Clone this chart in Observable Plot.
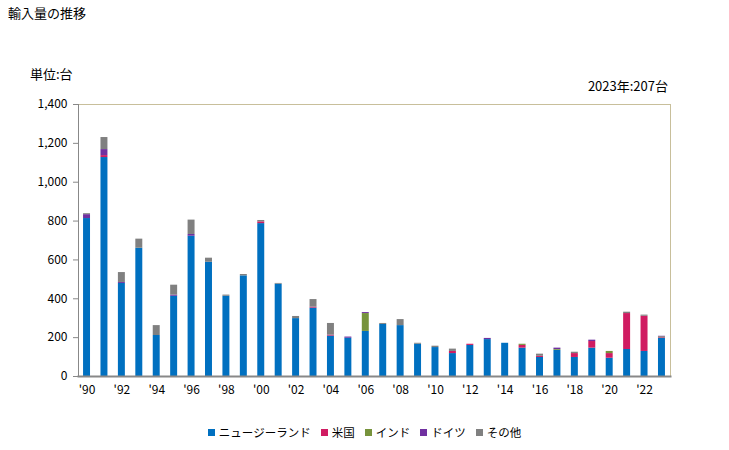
<!DOCTYPE html>
<html><head><meta charset="utf-8">
<script src="https://cdn.jsdelivr.net/npm/d3@7"></script>
<script src="https://cdn.jsdelivr.net/npm/@observablehq/plot@0.6"></script>
<style>
body{margin:0;background:#fff;font-family:"Noto Sans CJK JP","Noto Sans",sans-serif;}
#wrap{position:relative;width:729px;height:450px;overflow:hidden;}
#wrap svg{position:absolute;left:0;top:0;}
.t{position:absolute;font-size:13px;color:#000;white-space:nowrap;line-height:1;}
#legend{position:absolute;left:0;width:729px;top:425px;display:flex;justify-content:center;gap:10px;font-size:11.5px;line-height:14px;}
#legend div{white-space:nowrap;}
#legend span.sw{display:inline-block;width:7px;height:7px;margin-right:4px;vertical-align:middle;position:relative;top:-1px;}
</style></head>
<body>
<div id="wrap">
  <div class="t" style="left:8px;top:6px;">輸入量の推移</div>
  <div class="t" style="left:30px;top:67px;">単位:台</div>
  <div class="t" style="right:61px;top:79px;">2023年:207台</div>
  <div id="legend"></div>
</div>
<script>
const years = [1990,1991,1992,1993,1994,1995,1996,1997,1998,1999,2000,2001,2002,2003,2004,2005,2006,2007,2008,2009,2010,2011,2012,2013,2014,2015,2016,2017,2018,2019,2020,2021,2022,2023];
const seriesNames = ["ニュージーランド","米国","インド","ドイツ","その他"];
const seriesColors = ["#0070C0","#D01C62","#77933C","#7030A0","#808080"];
const nz      = [813,1127,479,660,211,413,722,588,413,518,787,475,298,352,208,197,232,268,262,166,149,118,160,190,171,146,98,135,98,146,94,139,129,197];
const us      = [0,10,0,0,0,0,0,0,0,0,9,0,0,5,5,0,0,0,0,0,0,11,6,0,0,14,6,0,20,34,24,185,181,3];
const india   = [0,0,0,0,0,0,0,0,0,0,0,0,0,0,0,0,92,0,0,0,0,0,0,0,0,6,0,4,0,0,11,0,0,4];
const germany = [20,31,5,0,0,6,9,0,0,0,0,0,0,0,0,6,5,0,0,0,0,0,0,6,0,0,0,7,0,7,0,0,0,3];
const other   = [5,62,51,47,51,51,74,21,6,7,7,4,11,39,60,0,0,5,31,5,7,12,0,0,0,0,11,0,7,0,0,7,6,0];
const yTicks = [0,200,400,600,800,1000,1200,1400];

const seriesValues = [nz, us, india, germany, other];
const data = [];
years.forEach((yr, i) => {
  seriesNames.forEach((s, j) => {
    data.push({year: yr, series: s, value: seriesValues[j][i]});
  });
});

const plot = Plot.plot({
  width: 729, height: 450,
  marginLeft: 78, marginRight: 59, marginTop: 104, marginBottom: 74,
  style: {fontFamily: '"Noto Sans CJK JP","Noto Sans",sans-serif', fontSize: "12px", color: "#000", background: "transparent"},
  x: {type: "band", domain: years, paddingInner: 0.6, paddingOuter: 0.29, round: false},
  y: {domain: [0, 1400]},
  color: {domain: seriesNames, range: seriesColors},
  marks: [
    Plot.frame({anchor: "top", stroke: "#C8BF9B"}),
    Plot.frame({anchor: "right", stroke: "#C8BF9B"}),
    Plot.barY(data, {x: "year", y: "value", fill: "series"}),
    Plot.frame({anchor: "left", stroke: "#888"}),
    Plot.frame({anchor: "bottom", stroke: "#888", strokeWidth: 2}),
    Plot.axisY({ticks: yTicks, tickSize: 5, tickPadding: 6, stroke: "#888", tickFormat: d3.format(","), label: null, fill: "#000"}),
    Plot.axisX({ticks: years.filter(y => y % 2 === 0), tickSize: 0, tickPadding: 9, tickFormat: d => "'" + String(d).slice(2), label: null, fill: "#000"})
  ]
});
const wrap = document.getElementById("wrap");
wrap.prepend(plot);

const lg = document.getElementById("legend");
seriesNames.forEach((s, j) => {
  const it = document.createElement("div");
  it.innerHTML = `<span class="sw" style="background:${seriesColors[j]}"></span>${s}`;
  lg.appendChild(it);
});
</script>
</body></html>
